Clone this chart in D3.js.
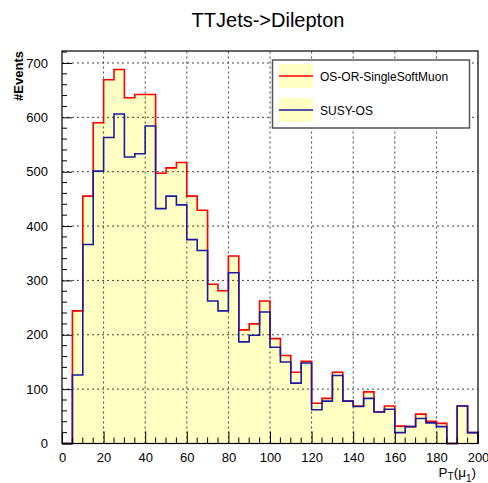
<!DOCTYPE html>
<html>
<head>
<meta charset="utf-8">
<script src="https://cdn.jsdelivr.net/npm/d3@7"></script>
<style>
  body { margin: 0; background: #fff; }
  text { font-family: "Liberation Sans", Arial, sans-serif; }
</style>
</head>
<body>
<div id="graph"></div>
<script>
// bin lower edges (GeV), width 5
const binLow = [0,5,10,15,20,25,30,35,40,45,50,55,60,65,70,75,80,85,90,95,
                100,105,110,115,120,125,130,135,140,145,150,155,160,165,170,175,180,185,190,195];
const binWidth = 5;
const osOrSoftMuon = [0,244,455,590,669,688,636,642,642,497,507,517,455,429,293,281,345,209,220,262,
                      193,162,131,151,74,83,131,78,69,95,58,69,32,31,54,41,37,0,69,20];
const susyOS = [0,126,366,501,563,606,527,533,584,432,455,439,375,355,262,244,314,187,199,242,
                177,150,111,148,62,78,125,78,68,83,58,63,20,31,46,38,31,0,69,20];
const seriesNames = ["OS-OR-SingleSoftMuon", "SUSY-OS"];
const seriesColors = ["#ff0000", "#1a1aa0"];
const xTicks = [0,20,40,60,80,100,120,140,160,180,200];
const yTicks = [0,100,200,300,400,500,600,700];

const W = 488, H = 483;
const margin = {top: 51, right: 10, bottom: 39.5, left: 62};

const svg = d3.select("#graph").append("svg")
  .attr("width", W).attr("height", H);

svg.append("rect").attr("width", W).attr("height", H).attr("fill", "#fff");

// yellow checker fill, like ROOT fill style 3001
const defs = svg.append("defs");
const pat = defs.append("pattern").attr("id", "fillpat")
  .attr("width", 2).attr("height", 2).attr("patternUnits", "userSpaceOnUse");
pat.append("rect").attr("width", 2).attr("height", 2).attr("fill", "#ffffa8")
  .attr("shape-rendering", "crispEdges");
pat.append("rect").attr("width", 1).attr("height", 1).attr("fill", "#ffffe0")
  .attr("shape-rendering", "crispEdges");
pat.append("rect").attr("x", 1).attr("y", 1).attr("width", 1).attr("height", 1).attr("fill", "#ffffe0")
  .attr("shape-rendering", "crispEdges");

let x = d3.scaleLinear().domain([0, 200]).range([margin.left, W - margin.right]);
let y = d3.scaleLinear().domain([0, 722]).range([H - margin.bottom, margin.top]);

// step outline points
function stepPoints(vals) {
  let pts = [[binLow[0], 0]];
  vals.forEach((v, i) => {
    pts.push([binLow[i], v]);
    pts.push([binLow[i] + binWidth, v]);
  });
  pts.push([binLow[binLow.length - 1] + binWidth, 0]);
  return pts;
}

let line = d3.line().x(d => x(d[0])).y(d => y(d[1]));
let area = d3.area().x(d => x(d[0])).y0(y(0)).y1(d => y(d[1]));

[osOrSoftMuon, susyOS].forEach(vals => {
  svg.append("path").datum(stepPoints(vals))
    .attr("d", area).attr("fill", "url(#fillpat)");
});

// grid
let grid = svg.append("g").attr("stroke", "#000").attr("stroke-width", 1)
  .attr("stroke-dasharray", "2,3").attr("opacity", 0.75);
xTicks.slice(1, -1).forEach(t => {
  grid.append("line").attr("x1", x(t)).attr("x2", x(t))
    .attr("y1", y(0)).attr("y2", margin.top);
});
yTicks.slice(1).forEach(t => {
  grid.append("line").attr("x1", x(0)).attr("x2", x(200))
    .attr("y1", y(t)).attr("y2", y(t));
});

[osOrSoftMuon, susyOS].forEach((vals, i) => {
  svg.append("path").datum(stepPoints(vals))
    .attr("d", line).attr("fill", "none")
    .attr("stroke", seriesColors[i]).attr("stroke-width", 1.6);
});

// axes, ROOT style ticks inside
let xAxis = d3.axisBottom(x).tickValues(xTicks).tickSizeInner(-12).tickSizeOuter(0).tickPadding(16);
let gx = svg.append("g").attr("transform", "translate(0," + y(0) + ")").call(xAxis);
gx.selectAll("text").attr("font-size", 13).attr("fill", "#000").attr("dy", "0.2em");
gx.select(".domain").remove();
let xMinor = [];
binLow.forEach(b => { if (b % 20 !== 0) xMinor.push(b); });
gx.selectAll(".minor").data(xMinor).enter().append("line")
  .attr("x1", d => x(d)).attr("x2", d => x(d)).attr("y1", 0).attr("y2", -6)
  .attr("stroke", "#000");

let yAxis = d3.axisLeft(y).tickValues(yTicks).tickSizeInner(-10).tickSizeOuter(0).tickPadding(14);
let gy = svg.append("g").attr("transform", "translate(" + x(0) + ",0)").call(yAxis);
gy.selectAll("text").attr("font-size", 13).attr("fill", "#000");
gy.select(".domain").remove();
let yMinor = [];
for (let k = 0; k < yTicks.length; k++) {
  [20, 40, 60, 80].forEach(m => yMinor.push(yTicks[k] + m));
}
gy.selectAll(".minor").data(yMinor.filter(v => v < 722)).enter().append("line")
  .attr("x1", 0).attr("x2", 5).attr("y1", d => y(d)).attr("y2", d => y(d))
  .attr("stroke", "#000");

// frame
svg.append("rect").attr("x", x(0)).attr("y", margin.top)
  .attr("width", x(200) - x(0)).attr("height", y(0) - margin.top)
  .attr("fill", "none").attr("stroke", "#000").attr("stroke-width", 1.2);

// title
svg.append("text").attr("x", 268).attr("y", 27).attr("text-anchor", "middle")
  .attr("font-size", 20).text("TTJets->Dilepton");

// axis titles
svg.append("text").attr("transform", "translate(23," + margin.top + ") rotate(-90)")
  .attr("text-anchor", "end").attr("font-size", 13).attr("font-weight", "bold")
  .text("#Events");

let xt = svg.append("text").attr("x", 476).attr("y", 477)
  .attr("text-anchor", "end").attr("font-size", 13.5);
xt.append("tspan").text("P");
xt.append("tspan").attr("font-size", 10).attr("dy", 3).text("T");
xt.append("tspan").attr("dy", -3).text("(μ");
xt.append("tspan").attr("font-size", 10).attr("dy", 5).text("1");
xt.append("tspan").attr("dy", -5).text(")");

// legend
let lg = svg.append("g");
lg.append("rect").attr("x", 272.5).attr("y", 60).attr("width", 197).attr("height", 68)
  .attr("fill", "#fff").attr("stroke", "#555").attr("stroke-width", 1.5);
seriesNames.forEach((name, i) => {
  let cy = 76 + i * 34;
  lg.append("rect").attr("x", 279).attr("y", cy - 12).attr("width", 34).attr("height", 24)
    .attr("fill", "url(#fillpat)");
  lg.append("line").attr("x1", 279).attr("x2", 313).attr("y1", cy).attr("y2", cy)
    .attr("stroke", seriesColors[i]).attr("stroke-width", 1.5);
  lg.append("text").attr("x", 320).attr("y", cy + 4.5).attr("font-size", 12).text(name);
});
</script>
</body>
</html>
